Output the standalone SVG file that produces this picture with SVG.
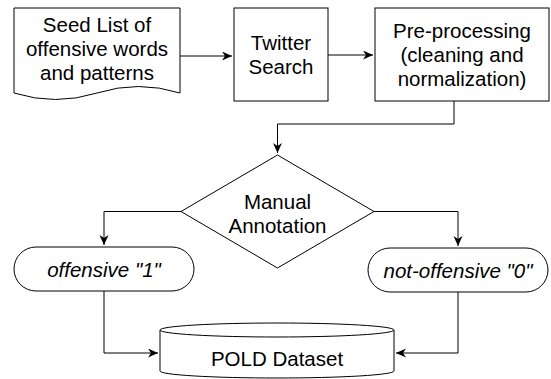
<svg xmlns="http://www.w3.org/2000/svg" width="551" height="379" viewBox="0 0 551 379">
<style>
.s{fill:#fff;stroke:#000;stroke-width:1}
.c{fill:none;stroke:#000;stroke-width:1}
text{font-family:"Liberation Sans",Arial,sans-serif;font-size:20.5px;fill:#000;text-anchor:middle}
.i{font-style:italic}
</style>
<defs>
<marker id="a" markerWidth="12" markerHeight="10" refX="10" refY="4.5" orient="auto" markerUnits="userSpaceOnUse">
<path d="M0,0 L10,4.5 L0,9 L3,4.5 Z" fill="#000"/>
</marker>
</defs>
<rect width="551" height="379" fill="#fff"/>
<g id="connectors">
<path class="c" d="M180,56 H232" marker-end="url(#a)"/>
<path class="c" d="M328,55 H373" marker-end="url(#a)"/>
<path class="c" d="M454,101 V124 H277.5 V153" marker-end="url(#a)"/>
<path class="c" d="M181,211.5 H104 V245" marker-end="url(#a)"/>
<path class="c" d="M374,211.5 H458 V246" marker-end="url(#a)"/>
<path class="c" d="M104,291 V353 H158" marker-end="url(#a)"/>
<path class="c" d="M458,292 V353 H396" marker-end="url(#a)"/>
</g>
<g id="seed">
<path class="s" d="M14,8 H180 V93 Q138.5,80 97,93 Q55.5,106 14,93 Z"/>
<text x="97" y="31.5">Seed List of</text>
<text x="97" y="55.5">offensive words</text>
<text x="97" y="79.5">and patterns</text>
</g>
<g id="twitter">
<rect class="s" x="234" y="8" width="94" height="93"/>
<text x="281" y="50">Twitter</text>
<text x="281" y="74">Search</text>
</g>
<g id="preprocessing">
<rect class="s" x="375" y="8" width="174" height="93"/>
<text x="462" y="38">Pre-processing</text>
<text x="462" y="62">(cleaning and</text>
<text x="462" y="86">normalization)</text>
</g>
<g id="annotation">
<path class="s" d="M277.5,155 L374,211.5 L277.5,268 L181,211.5 Z"/>
<text x="277.5" y="209">Manual</text>
<text x="277.5" y="233">Annotation</text>
</g>
<g id="offensive">
<rect class="s" x="14" y="247" width="180" height="44" rx="22" ry="22"/>
<text class="i" x="104" y="277">offensive "1"</text>
</g>
<g id="notoffensive">
<rect class="s" x="368" y="248" width="180" height="44" rx="22" ry="22"/>
<text class="i" x="458" y="278">not-offensive "0"</text>
</g>
<g id="pold">
<path class="s" d="M160,330 V371 A117,7 0 0 0 394,371 V330"/>
<ellipse class="s" cx="277" cy="330" rx="117" ry="7"/>
<text x="277" y="366">POLD Dataset</text>
</g>
</svg>
